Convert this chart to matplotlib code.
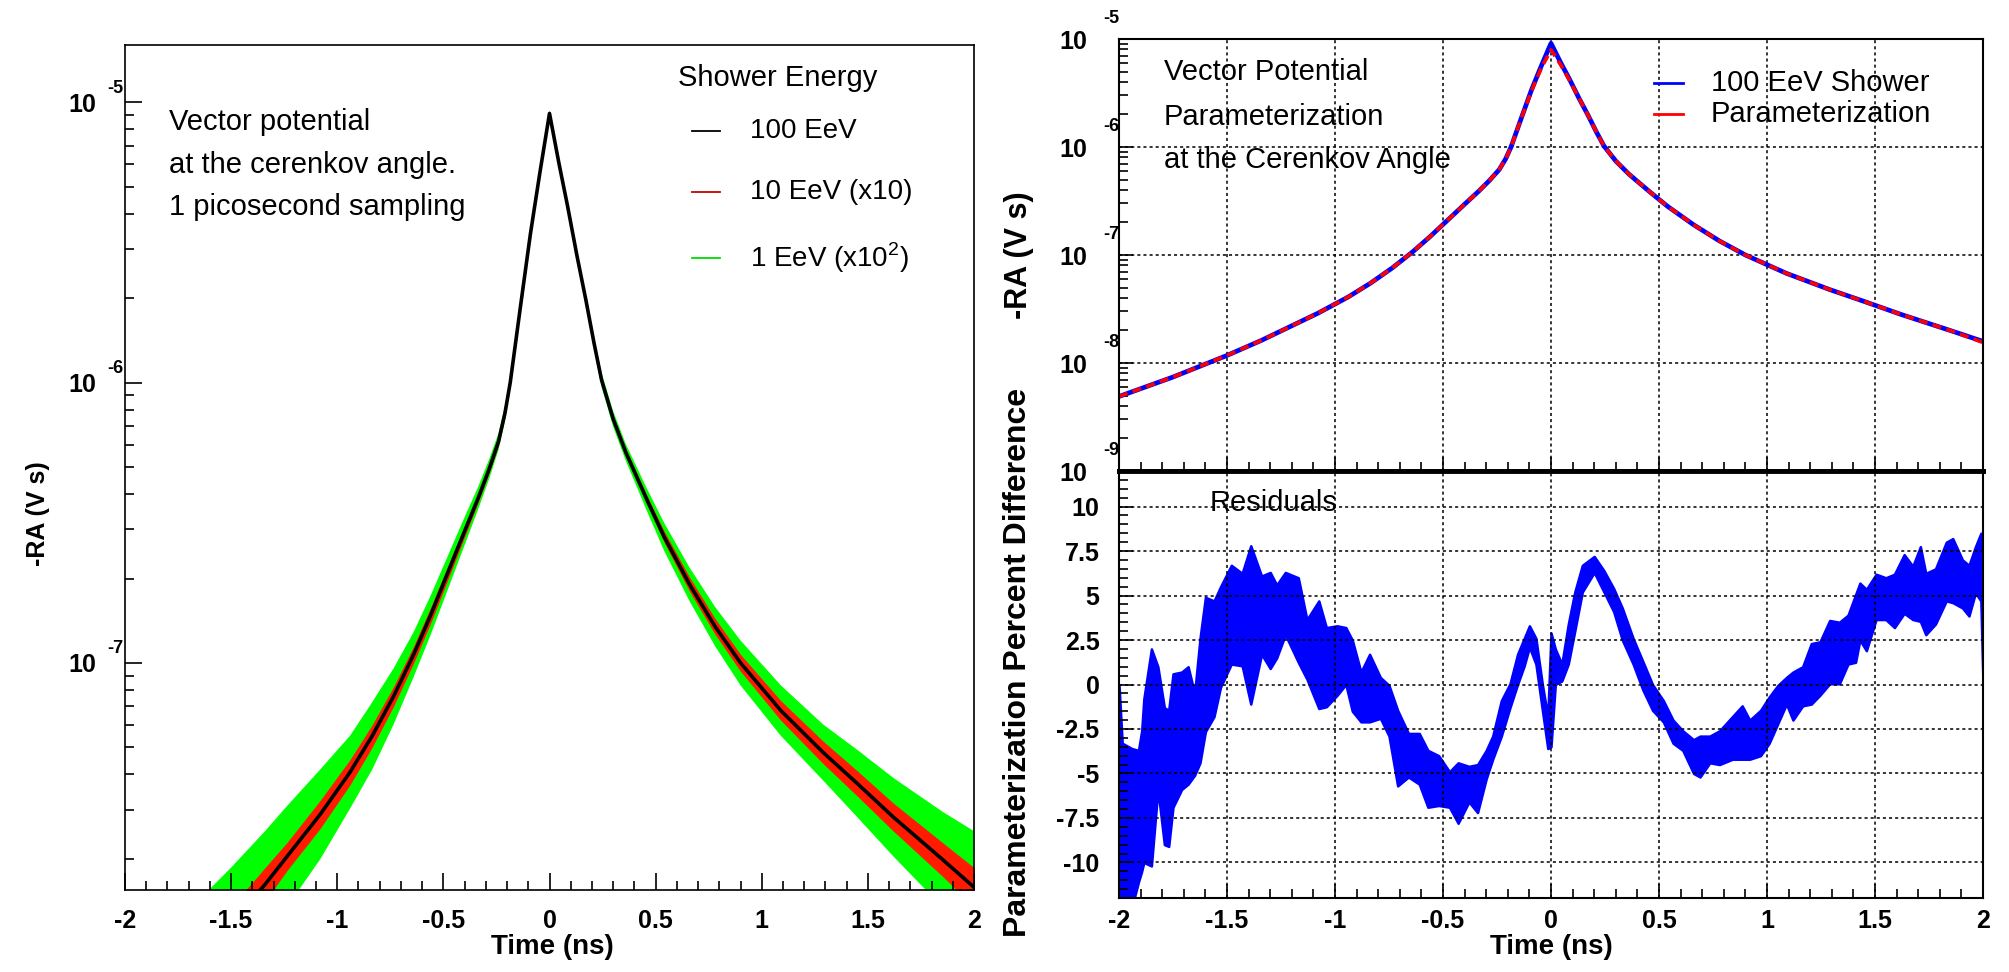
import numpy as np
import matplotlib.pyplot as plt
from matplotlib.lines import Line2D
from matplotlib.ticker import MultipleLocator, LogLocator, NullFormatter

plt.rcParams['font.family'] = ['Liberation Sans', 'DejaVu Sans']
plt.rcParams['mathtext.fontset'] = 'custom'
plt.rcParams['mathtext.rm'] = 'Liberation Sans'
plt.rcParams['mathtext.bf'] = 'Liberation Sans:bold'

# 100 EeV shower, log10 of -RA (V s)
shower_t = [-2.0, -1.75, -1.5, -1.34, -1.236, -1.08, -0.94, -0.835, -0.735, -0.64,
            -0.56, -0.48, -0.40, -0.335, -0.285, -0.24, -0.21, -0.185, -0.137, -0.09,
            -0.045, 0.0, 0.045, 0.085, 0.13, 0.17, 0.21, 0.245, 0.30, 0.36,
            0.46, 0.54, 0.66, 0.78, 0.90, 1.09, 1.29, 1.45, 1.62, 1.85, 2.0]
shower_log = [-8.31, -8.13, -7.93, -7.79, -7.69, -7.54, -7.39, -7.26, -7.12, -6.97,
              -6.83, -6.68, -6.53, -6.41, -6.31, -6.21, -6.11, -6.0, -5.73, -5.47,
              -5.25, -5.04, -5.22, -5.37, -5.55, -5.70, -5.86, -5.99, -6.13, -6.25,
              -6.42, -6.55, -6.72, -6.87, -7.0, -7.17, -7.32, -7.43, -7.55, -7.70, -7.80]
# spread (decades) of the scaled 1 EeV and 10 EeV showers around it
green_hw = [0.22, 0.21, 0.20, 0.19, 0.18, 0.16, 0.13, 0.12, 0.10, 0.08,
            0.07, 0.06, 0.05, 0.04, 0.035, 0.03, 0.028, 0.025, 0.02, 0.015,
            0.01, 0.01, 0.01, 0.015, 0.018, 0.02, 0.022, 0.025, 0.028, 0.03,
            0.04, 0.05, 0.06, 0.07, 0.08, 0.09, 0.10, 0.12, 0.14, 0.17, 0.20]
red_hw = [0.07, 0.07, 0.06, 0.06, 0.05, 0.05, 0.045, 0.04, 0.035, 0.03,
          0.028, 0.025, 0.02, 0.015, 0.013, 0.012, 0.011, 0.01, 0.008, 0.006,
          0.005, 0.005, 0.005, 0.006, 0.007, 0.008, 0.009, 0.01, 0.011, 0.012,
          0.015, 0.02, 0.025, 0.028, 0.03, 0.035, 0.04, 0.045, 0.05, 0.06, 0.07]
# parameterization
param_log = [-8.31, -8.13, -7.93, -7.79, -7.69, -7.54, -7.39, -7.26, -7.12, -6.97,
             -6.83, -6.68, -6.53, -6.41, -6.31, -6.21, -6.11, -6.0, -5.73, -5.48,
             -5.27, -5.10, -5.24, -5.38, -5.55, -5.70, -5.86, -5.99, -6.13, -6.25,
             -6.42, -6.55, -6.72, -6.87, -7.0, -7.17, -7.32, -7.43, -7.55, -7.70, -7.81]

# residuals (percent), upper / lower edge of the band
resid_t = [-2.0, -1.985, -1.94, -1.91, -1.895, -1.885, -1.85, -1.82, -1.79, -1.77,
           -1.75, -1.71, -1.68, -1.65, -1.625, -1.60, -1.56, -1.53, -1.48, -1.43,
           -1.39, -1.34, -1.30, -1.27, -1.23, -1.17, -1.13, -1.075, -1.04, -0.99,
           -0.95, -0.92, -0.88, -0.84, -0.79, -0.75, -0.71, -0.66, -0.61, -0.57,
           -0.52, -0.47, -0.43, -0.38, -0.34, -0.30, -0.27, -0.23, -0.19, -0.155,
           -0.124, -0.10, -0.07, -0.04, -0.015, 0.0, 0.02, 0.05, 0.08, 0.11,
           0.145, 0.20, 0.245, 0.29, 0.33, 0.38, 0.425, 0.47, 0.52, 0.565,
           0.61, 0.66, 0.69, 0.735, 0.78, 0.84, 0.885, 0.92, 0.97, 1.01,
           1.05, 1.09, 1.12, 1.165, 1.205, 1.245, 1.29, 1.335, 1.375, 1.41,
           1.43, 1.46, 1.505, 1.55, 1.59, 1.635, 1.675, 1.71, 1.735, 1.78,
           1.83, 1.86, 1.905, 1.935, 1.965, 1.99, 2.0]
resid_hi = [0.0, -3.3, -3.6, -3.7, -2.6, -0.8, 2.0, 1.0, -1.3, -1.45,
            0.6, 0.7, 1.0, -0.5, 2.6, 4.9, 4.7, 5.5, 6.7, 6.25,
            7.8, 6.1, 6.3, 5.6, 6.3, 6.0, 3.65, 4.7, 3.2, 3.3,
            3.2, 2.5, 0.7, 1.7, 0.4, -0.05, -1.45, -2.75, -2.75, -3.7,
            -4.0, -4.9, -4.4, -4.6, -4.5, -3.7, -2.9, -0.9, 0.04, 1.7,
            2.6, 3.3, 2.6, 0.0, -1.8, 2.9, 2.0, 1.15, 3.4, 5.2,
            6.7, 7.2, 6.4, 5.4, 4.3, 2.6, 1.3, 0.0, -0.9, -2.0,
            -2.6, -3.1, -2.9, -2.9, -2.6, -1.8, -1.2, -2.0, -1.45, -0.7,
            -0.05, 0.4, 0.7, 1.0, 2.3, 2.4, 3.6, 3.5, 3.9, 5.05,
            5.7, 5.35, 6.2, 6.0, 6.2, 7.3, 6.65, 7.75, 6.25, 6.5,
            8.0, 8.2, 7.0, 6.7, 7.75, 8.5, 8.5]
resid_lo = [-12.5, -12.5, -12.5, -11.1, -10.5, -10.0, -10.2, -5.9, -9.0, -9.1,
            -6.9, -5.9, -5.6, -5.1, -4.4, -2.65, -1.8, -0.15, 1.15, 1.05,
            -1.1, 1.7, 0.9, 1.5, 2.8, 1.25, 0.3, -1.35, -1.25, -0.6,
            0.0, -1.5, -2.1, -2.1, -1.9, -2.9, -5.7, -5.2, -5.6, -6.9,
            -6.8, -6.9, -7.8, -6.6, -7.2, -5.3, -4.2, -2.9, -1.3, 0.0,
            1.05, 2.1, 1.15, -1.45, -3.6, -3.5, 0.0, 0.2, 1.15, 3.0,
            5.2, 6.3, 5.2, 4.1, 2.5, 1.15, -0.3, -1.45, -2.1, -3.3,
            -3.7, -5.0, -5.2, -4.4, -4.5, -4.2, -4.2, -4.2, -4.0, -3.3,
            -2.2, -1.1, -2.0, -1.2, -1.1, -0.6, 0.04, 0.04, 1.15, 1.25,
            2.5, 1.9, 3.65, 3.65, 3.2, 4.0, 3.65, 3.55, 2.8, 3.4,
            4.7, 4.6, 4.3, 3.85, 5.15, 4.7, 0.0]

time_ticks = [-2, -1.5, -1, -0.5, 0, 0.5, 1, 1.5, 2]
time_labels = ['-2', '-1.5', '-1', '-0.5', '0', '0.5', '1', '1.5', '2']
left_decades = [-7, -6, -5]
right_decades = [-9, -8, -7, -6, -5]
resid_ticks = [-10, -7.5, -5, -2.5, 0, 2.5, 5, 7.5, 10]
resid_labels = ['-10', '-7.5', '-5', '-2.5', '0', '2.5', '5', '7.5', '10']

W, H = 2009, 972
fig = plt.figure(figsize=(W / 100, H / 100), dpi=100)


def box(x0, y0, x1, y1):
    return [x0 / W, 1 - y1 / H, (x1 - x0) / W, (y1 - y0) / H]


def fx(x):
    return x / W


def fy(y):
    return 1 - y / H


def decade_axis(ax, decades, pad, exp_dx, exp_dy):
    ax.set_yticks([10.0 ** d for d in decades])
    ax.set_yticklabels(['10'] * len(decades))
    ax.yaxis.set_minor_locator(LogLocator(base=10, subs=np.arange(2, 10)))
    ax.yaxis.set_minor_formatter(NullFormatter())
    ax.tick_params(axis='y', which='major', pad=pad)
    for d in decades:
        ax.annotate(str(d), xy=(0, 10.0 ** d), xycoords=('axes fraction', 'data'),
                    xytext=(exp_dx, exp_dy), textcoords='offset pixels',
                    ha='right', va='center', fontsize=13, fontweight='bold',
                    annotation_clip=False)


t = np.array(shower_t)
lg = np.array(shower_log)

# ---- left panel
axL = fig.add_axes(box(125, 45, 974, 890))
axL.fill_between(t, 10 ** (lg - np.array(green_hw)), 10 ** (lg + np.array(green_hw)),
                 color='#00ff00', lw=0)
axL.fill_between(t, 10 ** (lg - np.array(red_hw)), 10 ** (lg + np.array(red_hw)),
                 color='#ff1a00', lw=0)
axL.plot(t, 10 ** lg, color='black', lw=2.6)
axL.set_yscale('log')
axL.set_xlim(-2, 2)
axL.set_ylim(10 ** -7.81, 10 ** -4.796)
axL.set_xticks(time_ticks)
axL.set_xticklabels(time_labels)
axL.xaxis.set_minor_locator(MultipleLocator(0.1))
axL.tick_params(which='both', direction='in', top=False, right=False,
                labelsize=18, width=1.2)
axL.tick_params(which='major', length=12)
axL.tick_params(which='minor', length=6.5)
axL.tick_params(axis='x', pad=14)
decade_axis(axL, left_decades, 21, -2, 14)
for lab in axL.get_xticklabels() + axL.get_yticklabels():
    lab.set_fontweight('bold')
for s in axL.spines.values():
    s.set_linewidth(1.2)

fig.text(fx(38), fy(514), '-RA (V s)', rotation=90, ha='center', va='center',
         fontsize=18, fontweight='bold')
fig.text(fx(552), fy(947), 'Time (ns)', ha='center', va='center',
         fontsize=20, fontweight='bold')
for yy, txt in zip([122, 165, 207], ['Vector potential', 'at the cerenkov angle.',
                                      '1 picosecond sampling']):
    fig.text(fx(169), fy(yy), txt, ha='left', va='center', fontsize=21)
fig.text(fx(678), fy(78), 'Shower Energy', ha='left', va='center', fontsize=21)
for yy, col, txt in zip([131, 192, 258], ['black', '#cc0000', '#00dd00'],
                        ['100 EeV', '10 EeV (x10)', '1 EeV (x10$^{2}$)']):
    fig.add_artist(Line2D([fx(692), fx(720)], [fy(yy), fy(yy)], color=col, lw=1.3))
    fig.text(fx(750), fy(yy), txt, ha='left', va='center', fontsize=20)

# ---- right top panel
axT = fig.add_axes(box(1119, 39, 1983, 471))
axT.plot(t, 10 ** lg, color='blue', lw=3.4)
axT.plot(t, 10 ** np.array(param_log), color='red', lw=2.6, ls=(0, (2.5, 1.5)))
axT.set_yscale('log')
axT.set_xlim(-2, 2)
axT.set_ylim(1e-9, 1e-5)
axT.set_xticks(time_ticks)
axT.xaxis.set_minor_locator(MultipleLocator(0.1))
axT.tick_params(axis='x', which='both', labelbottom=False)
axT.tick_params(which='both', direction='in', top=False, right=False,
                labelsize=18, width=1.2)
axT.tick_params(which='major', length=10)
axT.tick_params(which='minor', length=6.5)
decade_axis(axT, right_decades, 23, 0, 21)
for lab in axT.get_yticklabels():
    lab.set_fontweight('bold')
axT.grid(True, which='major', color='black', lw=1.1, ls=(0, (2, 2)))
for s in axT.spines.values():
    s.set_linewidth(1.5)
axT.spines['bottom'].set_linewidth(3.5)

for yy, txt in zip([72, 117, 160], ['Vector Potential', 'Parameterization',
                                     'at the Cerenkov Angle']):
    fig.text(fx(1164), fy(yy), txt, ha='left', va='center', fontsize=21)
fig.add_artist(Line2D([fx(1654), fx(1683)], [fy(83), fy(83)], color='blue', lw=2))
fig.text(fx(1711), fy(83), '100 EeV Shower', ha='left', va='center', fontsize=21)
fig.add_artist(Line2D([fx(1654), fx(1683)], [fy(114), fy(114)], color='red', lw=2))
fig.text(fx(1711), fy(114), 'Parameterization', ha='left', va='center', fontsize=21)

# ---- right bottom panel
axB = fig.add_axes(box(1119, 471, 1983, 898))
axB.fill_between(resid_t, resid_lo, resid_hi, color='blue', edgecolor='blue', lw=1.8)
axB.set_xlim(-2, 2)
axB.set_ylim(-12, 12)
axB.set_xticks(time_ticks)
axB.set_xticklabels(time_labels)
axB.xaxis.set_minor_locator(MultipleLocator(0.1))
axB.set_yticks(resid_ticks)
axB.set_yticklabels(resid_labels)
axB.yaxis.set_minor_locator(MultipleLocator(0.5))
axB.tick_params(which='both', direction='in', top=False, right=False,
                labelsize=18, width=1.2)
axB.tick_params(which='major', length=10)
axB.tick_params(which='minor', length=6.5)
axB.tick_params(axis='y', pad=14)
axB.tick_params(axis='x', pad=8)
for lab in axB.get_xticklabels() + axB.get_yticklabels():
    lab.set_fontweight('bold')
axB.grid(True, which='major', color='black', lw=1.1, ls=(0, (2, 2)))
for s in axB.spines.values():
    s.set_linewidth(1.5)
axB.spines['top'].set_linewidth(3.5)
fig.text(fx(1210), fy(503), 'Residuals', ha='left', va='center', fontsize=21)

fig.text(fx(1019), fy(255), '-RA (V s)', rotation=90, ha='center', va='center',
         fontsize=22, fontweight='bold')
fig.text(fx(1018), fy(662), 'Parameterization Percent Difference', rotation=90,
         ha='center', va='center', fontsize=23, fontweight='bold')
fig.text(fx(1551), fy(947), 'Time (ns)', ha='center', va='center',
         fontsize=20, fontweight='bold')

fig.savefig('out.png', dpi=100)
